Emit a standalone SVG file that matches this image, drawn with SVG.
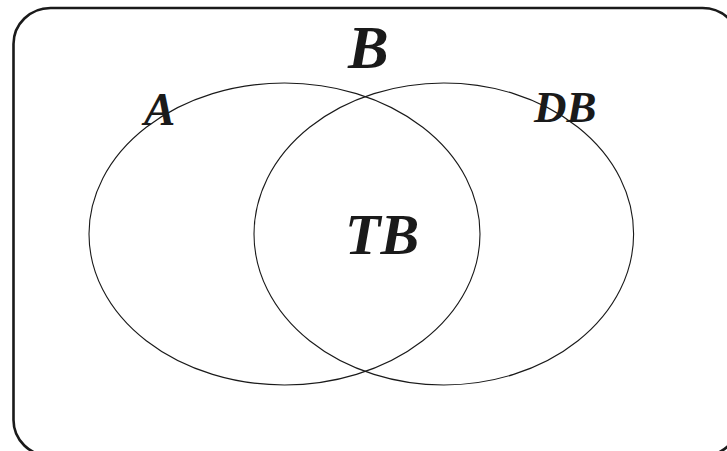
<svg xmlns="http://www.w3.org/2000/svg" width="727" height="451" viewBox="0 0 727 451">
<style>
.set{fill:none;stroke:#1a1a1a;stroke-width:1.1}
.lbl{font-family:"Liberation Serif","Times New Roman",serif;font-weight:bold;font-style:italic;fill:#1a1a1a}
</style>
<rect width="727" height="451" fill="#fff"/>
<rect x="13.5" y="8" width="726" height="448" rx="37" ry="36" fill="none" stroke="#1a1a1a" stroke-width="2.6"/>
<g id="setA"><ellipse class="set" cx="284.5" cy="234" rx="195.5" ry="151"/></g>
<g id="setDB"><ellipse class="set" cx="443.8" cy="234" rx="189.8" ry="151"/></g>
<g id="labels">
<text class="lbl" x="348" y="68" font-size="61">B</text>
<text class="lbl" x="144" y="125" font-size="47">A</text>
<text class="lbl" x="534" y="122" font-size="45">DB</text>
<text class="lbl" x="345" y="254" font-size="58">TB</text>
</g>
</svg>
